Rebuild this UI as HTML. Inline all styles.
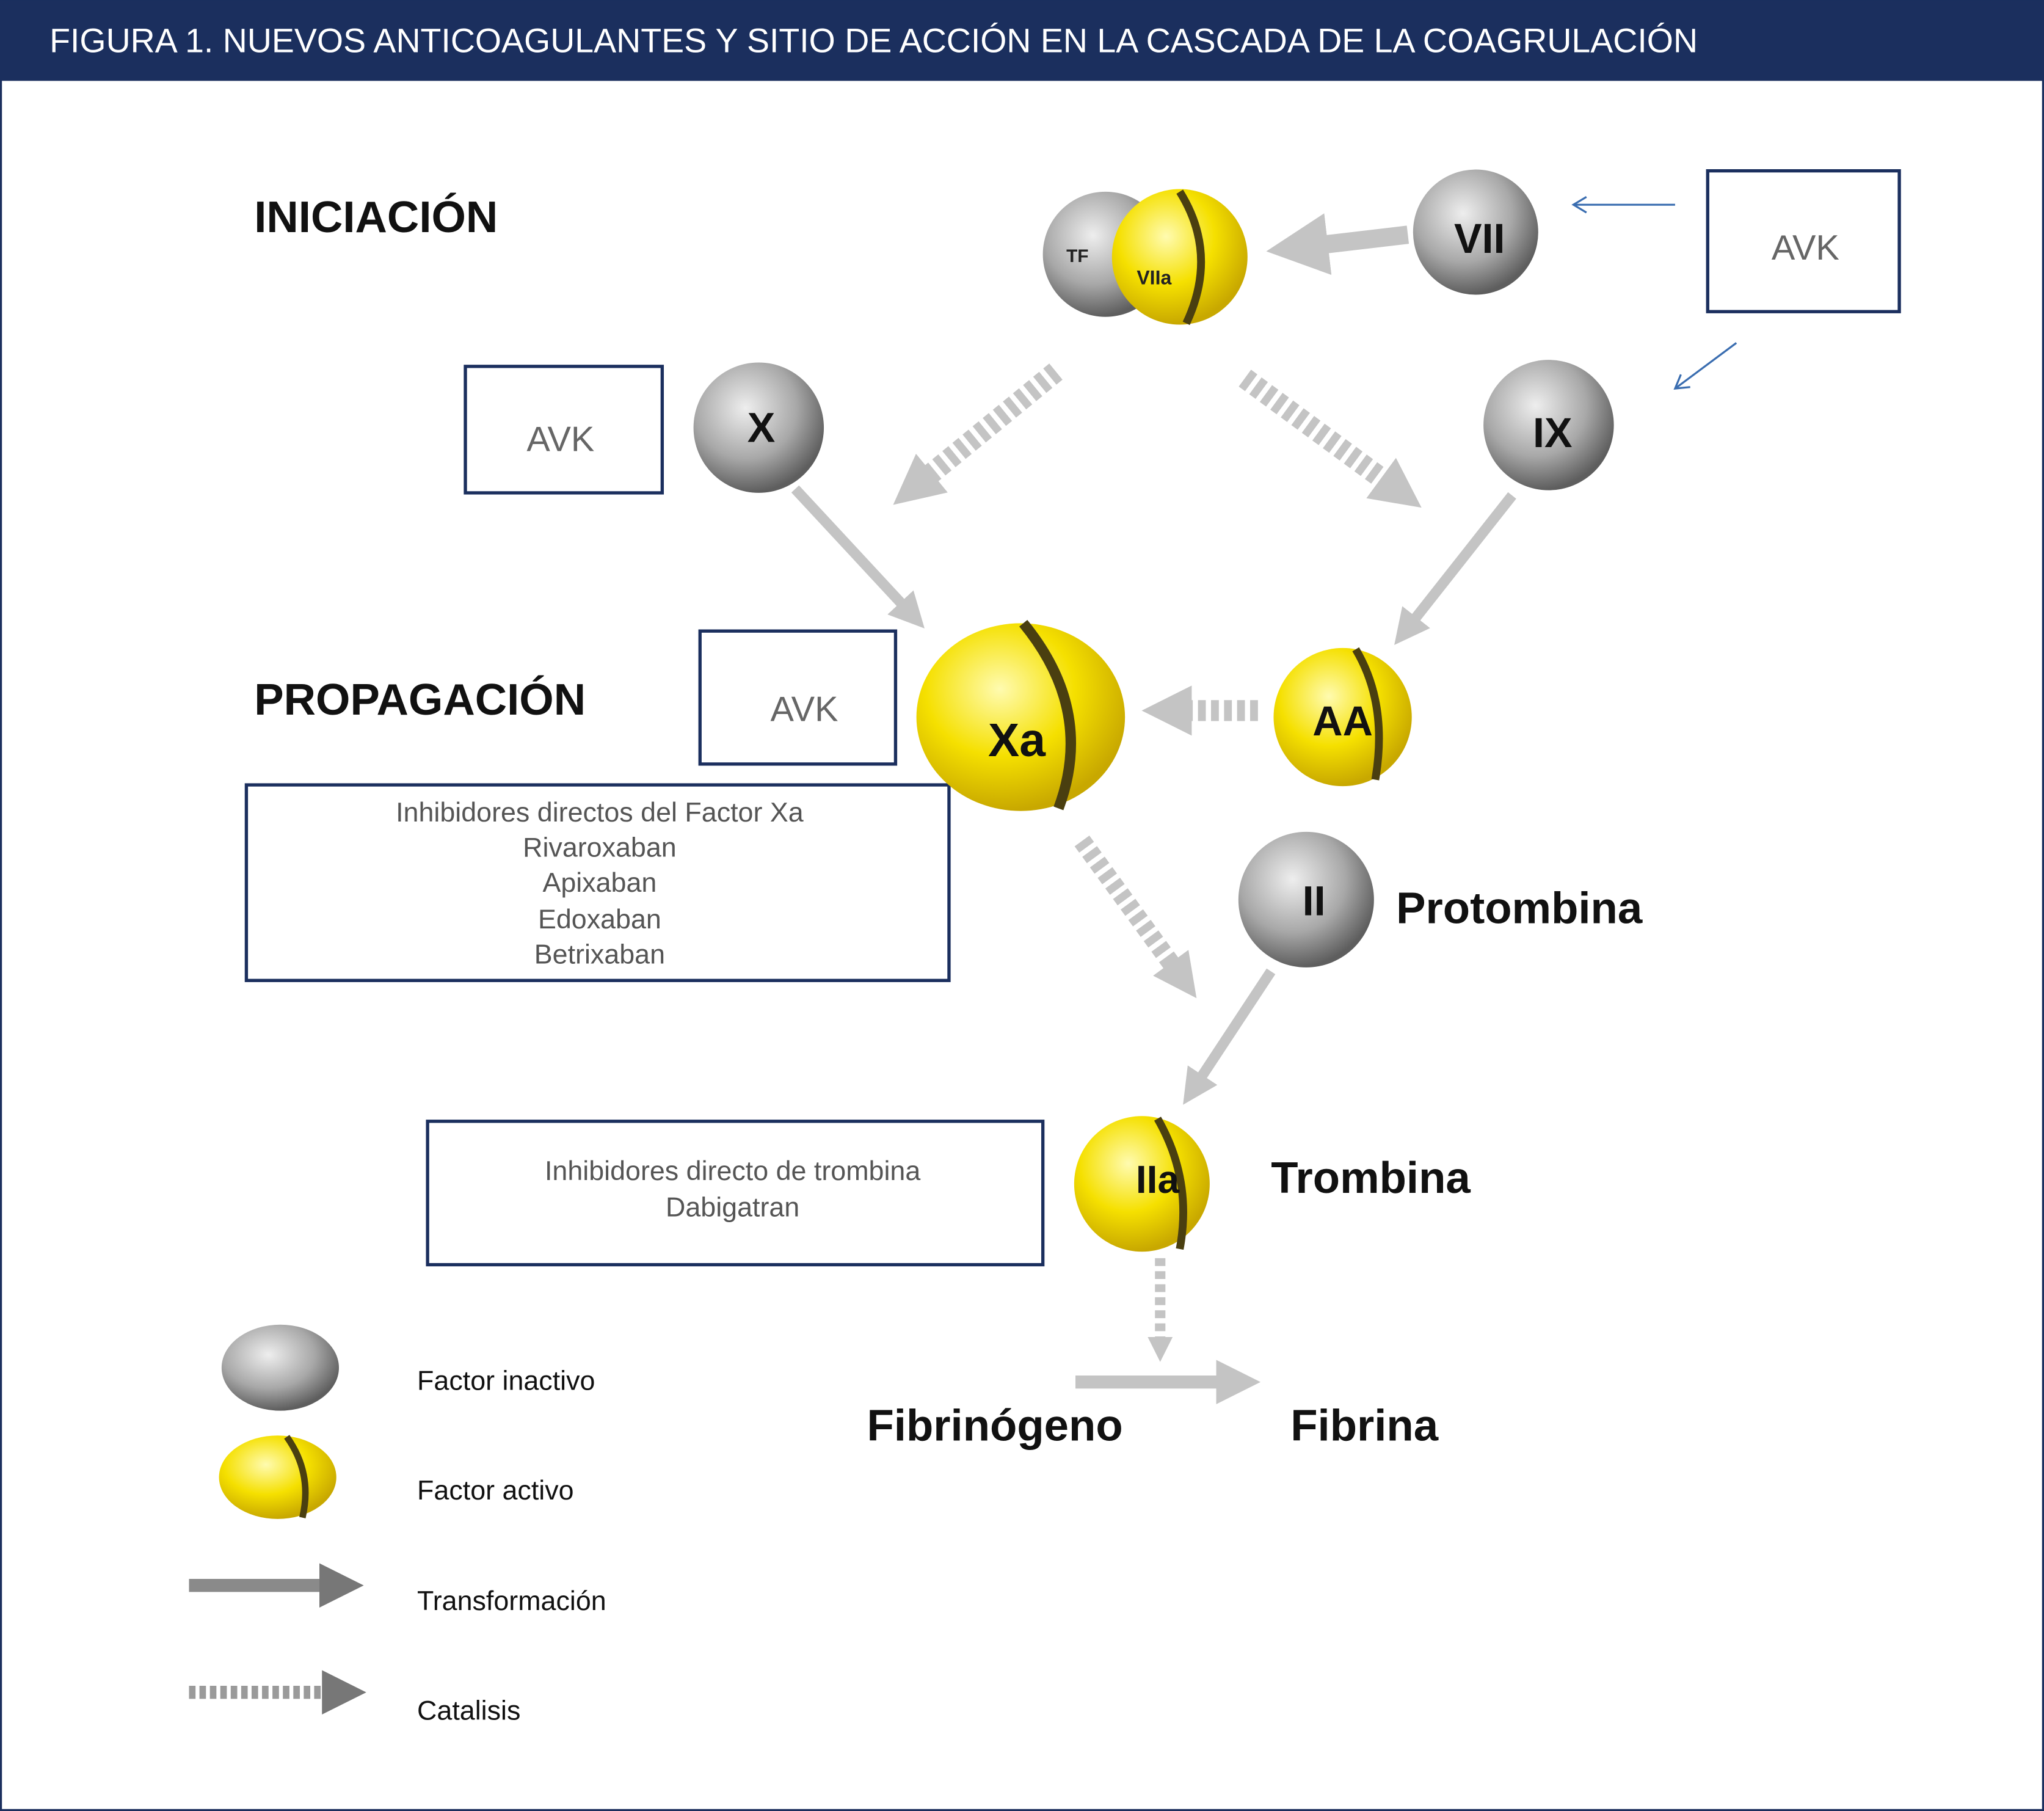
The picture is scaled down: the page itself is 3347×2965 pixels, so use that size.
<!DOCTYPE html>
<html><head><meta charset="utf-8"><style>
html,body{margin:0;padding:0;background:#fff}
svg{display:block}
text{font-family:"Liberation Sans",sans-serif}
</style></head><body>
<svg width="3347" height="2965" viewBox="0 0 1568 1389" xmlns="http://www.w3.org/2000/svg">
<defs>
<radialGradient id="g" cx="0.4" cy="0.35" r="0.65">
<stop offset="0" stop-color="#eeeeee"/><stop offset="0.6" stop-color="#a8a8a8"/><stop offset="1" stop-color="#5e5e5e"/></radialGradient>
<radialGradient id="y" cx="0.4" cy="0.35" r="0.65">
<stop offset="0" stop-color="#fffbb0"/><stop offset="0.55" stop-color="#f5e000"/><stop offset="1" stop-color="#c8a800"/></radialGradient>
<marker id="ah" markerWidth="3.4" markerHeight="3.4" refX="1.7" refY="1.7" orient="auto" markerUnits="strokeWidth"><path d="M0,0 L3.4,1.7 L0,3.4 z" fill="#c4c4c4"/></marker>
<marker id="ahd" markerWidth="2.4" markerHeight="2.4" refX="1.2" refY="1.2" orient="auto" markerUnits="strokeWidth"><path d="M0,0 L2.4,1.2 L0,2.4 z" fill="#c4c4c4"/></marker>
<marker id="ahl" markerWidth="3.4" markerHeight="3.4" refX="1.7" refY="1.7" orient="auto" markerUnits="strokeWidth"><path d="M0,0 L3.4,1.7 L0,3.4 z" fill="#777"/></marker>
<marker id="ahb" markerWidth="14" markerHeight="14" refX="11" refY="7" orient="auto" markerUnits="userSpaceOnUse"><path d="M1,1 L11,7 L1,13" fill="none" stroke="#3a6db0" stroke-width="1.5"/></marker>
</defs>
<rect x="0" y="0" width="1568" height="1389" fill="#fff" stroke="#1b2f5e" stroke-width="3"/>
<rect x="0" y="0" width="1568" height="62" fill="#1b2f5e"/>
<text x="38" y="40" font-size="26" fill="#fff">FIGURA 1. NUEVOS ANTICOAGULANTES Y SITIO DE ACCIÓN EN LA CASCADA DE LA COAGRULACIÓN</text>

<g font-weight="bold" font-size="34" fill="#111">
<text x="195" y="178">INICIACIÓN</text>
<text x="195" y="548">PROPAGACIÓN</text>
<text x="1071" y="708">Protombina</text>
<text x="975" y="915">Trombina</text>
<text x="665" y="1105">Fibrinógeno</text>
<text x="990" y="1105">Fibrina</text>
</g>

<line x1="1080" y1="180" x2="995" y2="190" stroke="#c4c4c4" stroke-width="14" marker-end="url(#ah)"/>
<line x1="610" y1="375" x2="700" y2="472" stroke="#c4c4c4" stroke-width="8" marker-end="url(#ah)"/>
<line x1="1160" y1="380" x2="1078" y2="484" stroke="#c4c4c4" stroke-width="8" marker-end="url(#ah)"/>
<line x1="975" y1="745" x2="915" y2="836" stroke="#c4c4c4" stroke-width="8" marker-end="url(#ah)"/>
<line x1="825" y1="1060" x2="950" y2="1060" stroke="#c4c4c4" stroke-width="10" marker-end="url(#ah)"/>
<g stroke="#c4c4c4" stroke-dasharray="6 4">
<line x1="810" y1="285" x2="700" y2="375" stroke-width="16" marker-end="url(#ahd)"/>
<line x1="955" y1="290" x2="1075" y2="378" stroke-width="16" marker-end="url(#ahd)"/>
<line x1="965" y1="545" x2="895" y2="545" stroke-width="16" marker-end="url(#ahd)"/>
<line x1="830" y1="645" x2="908" y2="752" stroke-width="14" marker-end="url(#ahd)"/>
<line x1="890" y1="965" x2="890" y2="1035" stroke-width="8" marker-end="url(#ahd)"/>
</g>
<line x1="1285" y1="157" x2="1207" y2="157" stroke="#3a6db0" stroke-width="1.5" marker-end="url(#ahb)"/>
<line x1="1332" y1="263" x2="1285" y2="298" stroke="#3a6db0" stroke-width="1.5" marker-end="url(#ahb)"/>

<g fill="none" stroke="#1b2f5e" stroke-width="2.5">
<rect x="1310" y="131" width="147" height="108"/>
<rect x="357" y="281" width="151" height="97"/>
<rect x="537" y="484" width="150" height="102"/>
<rect x="189" y="602" width="539" height="150"/>
<rect x="328" y="860" width="472" height="110"/>
</g>
<g font-size="27" fill="#666" text-anchor="middle">
<text x="1385" y="199">AVK</text>
<text x="430" y="346">AVK</text>
<text x="617" y="553">AVK</text>
</g>
<g font-size="21" fill="#555" text-anchor="middle">
<text x="460" y="630">Inhibidores directos del Factor Xa</text>
<text x="460" y="657">Rivaroxaban</text>
<text x="460" y="684">Apixaban</text>
<text x="460" y="712">Edoxaban</text>
<text x="460" y="739">Betrixaban</text>
<text x="562" y="905">Inhibidores directo de trombina</text>
<text x="562" y="933">Dabigatran</text>
</g>

<circle cx="848" cy="195" r="48" fill="url(#g)"/>
<text x="818" y="201" font-size="14" font-weight="bold" fill="#222">TF</text>
<circle cx="905" cy="197" r="52" fill="url(#y)"/>
<path d="M905,147 Q935,195 910,248" fill="none" stroke="#4a3f10" stroke-width="6"/>
<text x="872" y="218" font-size="15" font-weight="bold" fill="#222">VIIa</text>
<circle cx="1132" cy="178" r="48" fill="url(#g)"/>
<text x="1135" y="194" font-size="32" font-weight="bold" text-anchor="middle" fill="#111">VII</text>
<circle cx="582" cy="328" r="50" fill="url(#g)"/>
<text x="584" y="339" font-size="32" font-weight="bold" text-anchor="middle" fill="#111">X</text>
<circle cx="1188" cy="326" r="50" fill="url(#g)"/>
<text x="1191" y="343" font-size="32" font-weight="bold" text-anchor="middle" fill="#111">IX</text>
<ellipse cx="783" cy="550" rx="80" ry="72" fill="url(#y)"/>
<path d="M785,478 Q840,545 812,620" fill="none" stroke="#4a3f10" stroke-width="8"/>
<text x="780" y="580" font-size="36" font-weight="bold" text-anchor="middle" fill="#111">Xa</text>
<circle cx="1030" cy="550" r="53" fill="url(#y)"/>
<path d="M1040,498 Q1065,540 1055,598" fill="none" stroke="#4a3f10" stroke-width="6"/>
<text x="1030" y="564" font-size="32" font-weight="bold" text-anchor="middle" fill="#111">AA</text>
<circle cx="1002" cy="690" r="52" fill="url(#g)"/>
<text x="1008" y="702" font-size="32" font-weight="bold" text-anchor="middle" fill="#111">II</text>
<circle cx="876" cy="908" r="52" fill="url(#y)"/>
<path d="M888,858 Q915,905 905,958" fill="none" stroke="#4a3f10" stroke-width="6"/>
<text x="888" y="915" font-size="30" font-weight="bold" text-anchor="middle" fill="#111">IIa</text>

<ellipse cx="215" cy="1049" rx="45" ry="33" fill="url(#g)"/>
<ellipse cx="213" cy="1133" rx="45" ry="32" fill="url(#y)"/>
<path d="M220,1102 Q240,1130 232,1164" fill="none" stroke="#4a3f10" stroke-width="5"/>
<line x1="145" y1="1216" x2="262" y2="1216" stroke="#8a8a8a" stroke-width="10" marker-end="url(#ahl)"/>
<line x1="145" y1="1298" x2="264" y2="1298" stroke="#9a9a9a" stroke-width="10" stroke-dasharray="5 3" marker-end="url(#ahl)"/>
<g font-size="21" fill="#111">
<text x="320" y="1066">Factor inactivo</text>
<text x="320" y="1150">Factor  activo</text>
<text x="320" y="1235">Transformación</text>
<text x="320" y="1319">Catalisis</text>
</g>
</svg>
</body></html>
